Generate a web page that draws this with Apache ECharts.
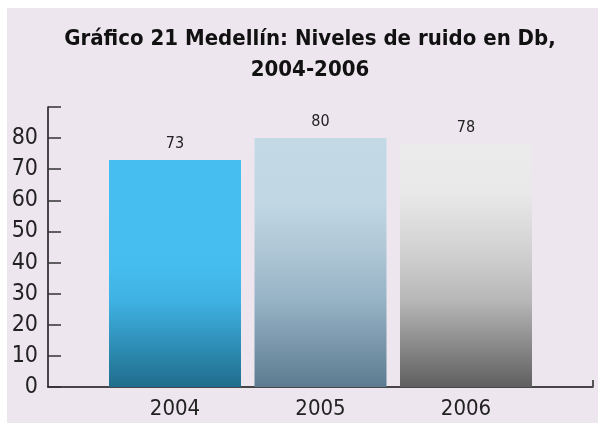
<!DOCTYPE html>
<html>
<head>
<meta charset="utf-8">
<script src="https://cdn.jsdelivr.net/npm/echarts@6/dist/echarts.min.js"></script>
<style>
html,body{margin:0;padding:0;background:#EEE6EF;overflow:hidden;}
#wrap{position:relative;width:598px;height:423px;}
#topw{position:absolute;left:0;top:0;width:100vw;min-width:598px;height:8px;background:#fff;}
#leftw{position:absolute;left:0;top:0;width:7px;height:100vh;min-height:423px;background:#fff;}
#c{position:absolute;left:0;top:0;width:598px;height:423px;}
</style>
</head>
<body>
<div id="wrap"><div id="topw"></div><div id="leftw"></div><div id="c"></div></div>
<script>
const titleText = 'Gráfico 21 Medellín: Niveles de ruido en Db,\n2004-2006';
const categories = ['2004', '2005', '2006'];
const values = [73, 80, 78];
const yTicks = [0, 10, 20, 30, 40, 50, 60, 70, 80, 90];

const FONT = "'Liberation Sans Narrow', 'DejaVu Sans Condensed', sans-serif";
const gradients = [
  [[0, '#46BFF0'], [0.45, '#45BEEF'], [0.62, '#3FB2E3'], [1, '#1F6D8C']],
  [[0, '#C3DAE6'], [0.25, '#C1D8E4'], [0.45, '#AFC7D6'], [0.65, '#97B3C6'], [1, '#5D7B90']],
  [[0, '#EBEBEB'], [0.2, '#E9E9E9'], [0.45, '#D0D0D0'], [0.64, '#B8B8B8'], [1, '#5F5F5F']]
];
function grad(stops) {
  return new echarts.graphic.LinearGradient(0, 0, 0, 1,
    stops.map(s => ({offset: s[0], color: s[1]})));
}

const chart = echarts.init(document.getElementById('c'), null, {renderer: 'canvas'});
chart.setOption({
  backgroundColor: 'transparent',
  animation: false,
  title: {
    text: titleText,
    left: 305, top: 19, textAlign: 'center',
    textStyle: {fontFamily: FONT, fontWeight: 'bold', fontSize: 22, lineHeight: 31, color: '#111'}
  },
  grid: [
    {left: 48, right: 5, top: 107, bottom: 36},
    {left: 102.25, right: 59.25, top: 107, bottom: 36}
  ],
  xAxis: [
    {
      gridIndex: 0, type: 'value', min: 0, max: 1, interval: 1,
      axisLine: {show: true, lineStyle: {color: '#111', width: 1.5}},
      axisTick: {show: true, inside: true, length: 7, customValues: [1], lineStyle: {color: '#555', width: 2}},
      axisLabel: {show: false}, splitLine: {show: false}
    },
    {
      gridIndex: 1, type: 'category', data: categories,
      axisLine: {show: false}, axisTick: {show: false},
      axisLabel: {fontFamily: FONT, fontSize: 22, color: '#222', margin: 11}
    }
  ],
  yAxis: [
    {
      gridIndex: 0, type: 'value', min: yTicks[0], max: yTicks[yTicks.length - 1], interval: 10,
      axisLine: {show: true, lineStyle: {color: '#111', width: 1.5}},
      axisTick: {show: true, inside: true, length: 13, lineStyle: {color: '#333', width: 1.5}},
      axisLabel: {fontFamily: FONT, fontSize: 23, color: '#222', margin: 10,
        formatter: v => (v === 90 ? '' : String(v))},
      splitLine: {show: false}
    },
    {
      gridIndex: 1, type: 'value', min: 0, max: 90, show: false, splitLine: {show: false}
    }
  ],
  series: [{
    type: 'bar', xAxisIndex: 1, yAxisIndex: 1, barWidth: 132,
    data: values.map((v, i) => ({value: v, itemStyle: {color: grad(gradients[i])}})),
    label: {show: true, position: 'top', distance: 8, fontFamily: FONT, fontSize: 16, color: '#222'}
  }]
});
</script>
</body>
</html>
